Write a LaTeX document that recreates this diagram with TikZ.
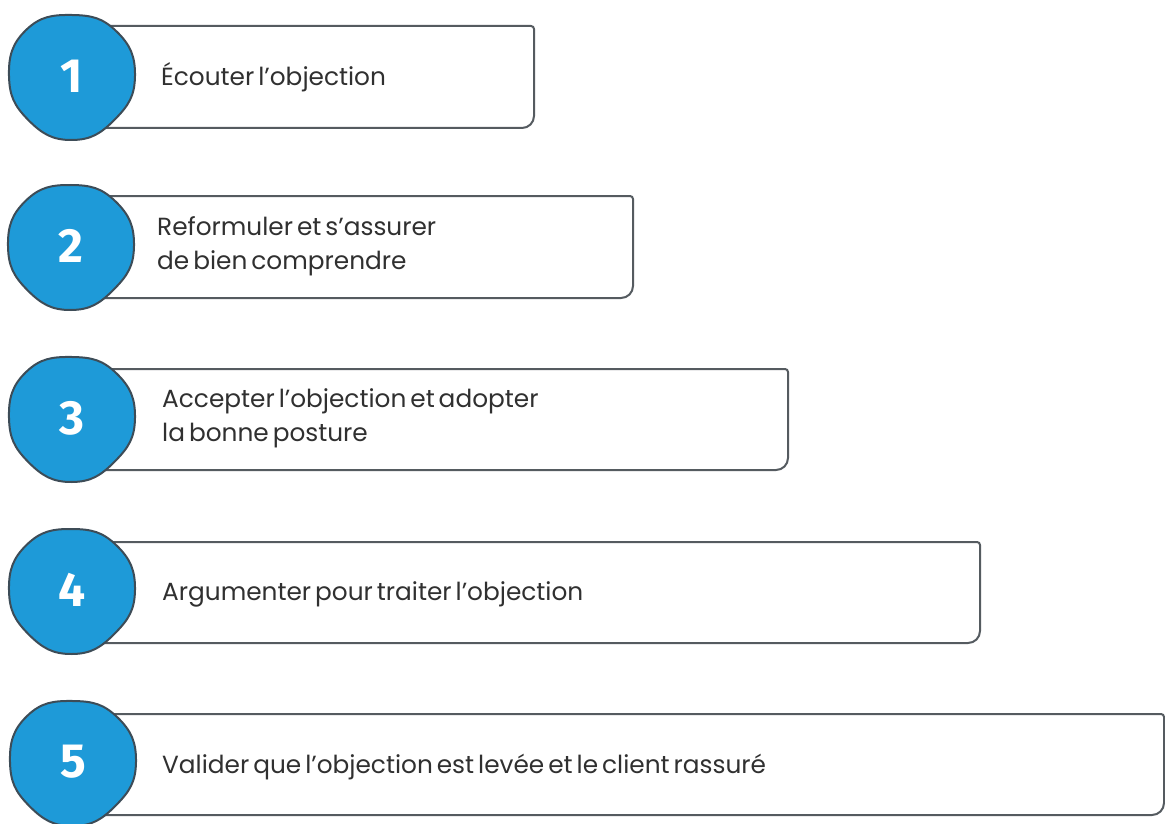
\documentclass[tikz,border=0pt]{standalone}
\usepackage{fontspec}
\usetikzlibrary{calc}
\setmainfont{Poppins}[WordSpace=0.6]
\newfontfamily\digitfont{Fira Sans}
\begin{document}
\begin{tikzpicture}[x=1pt,y=-1pt,
  boxline/.style={draw=boxgrey,line width=2pt},
  boxarea/.style={draw=none,anchor=north west,inner sep=0pt,outer sep=0pt},
  steptext/.style={anchor=west,inner sep=0pt,text=txtgrey,font=\fontsize{24.8}{34}\selectfont,align=left},
  blob/.style={fill=stepblue,draw=rimgrey,line width=2pt},
  digit/.style={text=white,font=\digitfont\bfseries\fontsize{48}{48}\selectfont,inner sep=0pt}]
\definecolor{stepblue}{HTML}{1E9AD8}
\definecolor{rimgrey}{HTML}{3D4C57}
\definecolor{boxgrey}{HTML}{555B60}
\definecolor{txtgrey}{HTML}{303030}
\useasboundingbox (0,0) rectangle (1165,824);

% outline of a step box: square left side, small top-right and large bottom-right rounding
\newcommand{\stepoutline}[1]{%
  \draw[boxline] (#1.north west) -- ([xshift=-3pt]#1.north east)
    arc[start angle=90,end angle=0,radius=3pt]
    -- ([yshift=12pt]#1.south east)
    arc[start angle=0,end angle=-90,radius=12pt]
    -- (#1.south west);}

% irregular hand-drawn disc around a centre
\newcommand{\stepblob}[3]{%
  \draw[blob] plot[smooth cycle,tension=0.8] coordinates {
    ($(#1)+(0:#2+1)$) ($(#1)+(45:#2-1)$) ($(#1)+(90:#2+2)$) ($(#1)+(135:#2)$)
    ($(#1)+(180:#2+1)$) ($(#1)+(225:#2+#3)$) ($(#1)+(270:#2-1)$) ($(#1)+(315:#2+1)$)};}

% boxes
\node[boxarea,minimum width=434pt,minimum height=102pt] (box1) at (100,26) {};
\node[boxarea,minimum width=533pt,minimum height=102pt] (box2) at (100,196) {};
\node[boxarea,minimum width=688pt,minimum height=101pt] (box3) at (100,369) {};
\node[boxarea,minimum width=880pt,minimum height=101pt] (box4) at (100,542) {};
\node[boxarea,minimum width=1064pt,minimum height=101pt] (box5) at (100,714) {};
\foreach \b in {box1,box2,box3,box4,box5} {\stepoutline{\b}}

% texts
\node[steptext] (t1) at (161,77) {Écouter l’objection};
\node[steptext] (t2) at (157,246) {Reformuler et s’assurer\\de bien comprendre};
\node[steptext] (t3) at (162,418) {Accepter l’objection et adopter\\la bonne posture};
\node[steptext] (t4) at (162,594) {Argumenter pour traiter l’objection};
\node[steptext] (t5) at (162,767) {Valider que l’objection est levée et le client rassuré};

% numbered discs
\coordinate (c1) at (72,76);
\coordinate (c2) at (71,246);
\coordinate (c3) at (72,418);
\coordinate (c4) at (72,590);
\coordinate (c5) at (73,762);
\stepblob{c1}{62}{3}
\stepblob{c2}{62}{2}
\stepblob{c3}{62}{3}
\stepblob{c4}{62}{2}
\stepblob{c5}{62}{3}
\node[digit] (n1) at (c1) {1};
\node[digit] (n2) at (c2) {2};
\node[digit] (n3) at (c3) {3};
\node[digit] (n4) at (c4) {4};
\node[digit] (n5) at (c5) {5};
\end{tikzpicture}
\end{document}
